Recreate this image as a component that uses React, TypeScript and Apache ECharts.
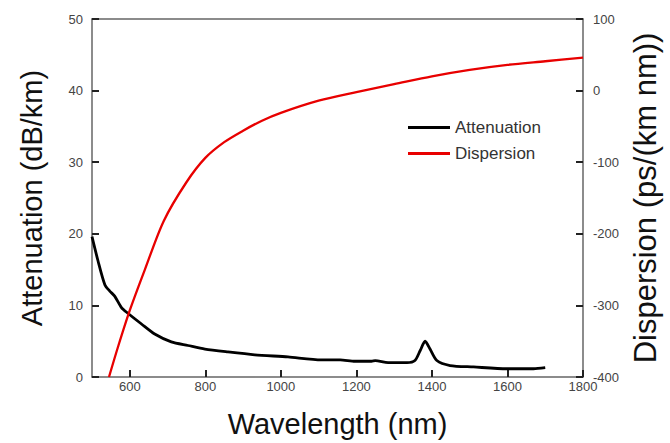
import React, { useEffect, useRef } from "react";
import * as echarts from "echarts";

const xTicks = [600, 800, 1000, 1200, 1400, 1600, 1800];

const attWavelength = [500, 516, 534, 547, 560, 578, 595, 631, 666, 710, 754, 799, 860, 931, 1019, 1107, 1157, 1196, 1240, 1250, 1284, 1334, 1355, 1369, 1382, 1395, 1413, 1448, 1510, 1598, 1669, 1700];
const attValues = [19.6, 16.2, 12.9, 12.0, 11.3, 9.7, 8.9, 7.4, 6.0, 4.9, 4.4, 3.9, 3.5, 3.1, 2.8, 2.4, 2.4, 2.2, 2.2, 2.3, 2.0, 2.0, 2.3, 3.7, 5.0, 3.9, 2.3, 1.6, 1.4, 1.15, 1.15, 1.3];

const dispWavelength = [545, 570, 600, 640, 690, 750, 800, 850, 900, 950, 1000, 1100, 1200, 1300, 1400, 1500, 1600, 1700, 1800];
const dispValues = [-400, -356, -307, -250, -182, -128, -94, -72, -56, -42, -31, -14, -2, 9, 20, 29, 36, 41, 46];

const FONT = "'Liberation Sans', Arial, sans-serif";

export default function App() {
  const ref = useRef<HTMLDivElement>(null);
  useEffect(() => {
    if (!ref.current) return;
    const chart = echarts.init(ref.current, null, { renderer: "svg" });
    const attData = attWavelength.map((w, i) => [w, attValues[i]]);
    const dispData = dispWavelength.map((w, i) => [w, dispValues[i]]);
    const plain = (v: number) => String(v);
    const mkLine = () => ({ show: true, onZero: false, lineStyle: { color: "#666", width: 1.5 } });
    const mkTick = () => ({ show: true, inside: true, length: 7, lineStyle: { color: "#222", width: 2 } });
    chart.setOption({
      animation: false,
      grid: { left: 92, right: 87, top: 19, bottom: 63 },
      legend: {
        orient: "vertical",
        left: 408,
        top: 119,
        padding: 0,
        itemWidth: 42,
        itemHeight: 3,
        itemGap: 9,
        icon: "rect",
        textStyle: { fontSize: 17, color: "#333", fontFamily: FONT },
        data: ["Attenuation", "Dispersion"],
      },
      xAxis: [
        {
          type: "value",
          min: 500,
          max: 1800,
          position: "bottom",
          name: "Wavelength (nm)",
          nameLocation: "middle",
          nameGap: 32,
          nameTextStyle: { fontSize: 29, color: "#111", fontFamily: FONT },
          axisLine: mkLine(),
          axisTick: { ...mkTick(), customValues: xTicks },
          axisLabel: { customValues: xTicks, fontSize: 13, color: "#444", margin: 3, fontFamily: FONT, formatter: plain },
          splitLine: { show: false },
        },
        {
          type: "value",
          min: 500,
          max: 1800,
          position: "top",
          axisLine: mkLine(),
          axisTick: { show: false },
          axisLabel: { show: false },
          splitLine: { show: false },
        },
        {
          type: "value",
          min: 500,
          max: 1800,
          position: "bottom",
          axisLine: { show: false },
          axisTick: { show: true, inside: true, length: 7, customValues: xTicks, lineStyle: { color: "#222", width: 2 } },
          axisLabel: { show: false, customValues: xTicks },
          splitLine: { show: false },
        },
      ],
      yAxis: [
        {
          type: "value",
          min: 0,
          max: 50,
          interval: 10,
          position: "left",
          name: "Attenuation (dB/km)",
          nameLocation: "middle",
          nameRotate: 90,
          nameGap: 46,
          nameTextStyle: { fontSize: 29, color: "#111", fontFamily: FONT },
          axisLine: mkLine(),
          axisTick: mkTick(),
          axisLabel: { fontSize: 13, color: "#444", margin: 9, fontFamily: FONT, formatter: plain },
          splitLine: { show: false },
        },
        {
          type: "value",
          min: -400,
          max: 100,
          interval: 100,
          position: "right",
          name: "Dispersion (ps/(km nm))",
          nameLocation: "middle",
          nameRotate: 90,
          nameGap: 37,
          nameTextStyle: { fontSize: 31, color: "#111", fontFamily: FONT },
          axisLine: mkLine(),
          axisTick: mkTick(),
          axisLabel: { fontSize: 13, color: "#444", margin: 10, fontFamily: FONT, formatter: plain },
          splitLine: { show: false },
        },
        {
          type: "value",
          min: 0,
          max: 50,
          interval: 10,
          position: "left",
          axisLine: { show: false },
          axisTick: { show: true, inside: true, length: 7, lineStyle: { color: "#222", width: 2 } },
          axisLabel: { show: false },
          splitLine: { show: false },
        },
        {
          type: "value",
          min: -400,
          max: 100,
          interval: 100,
          position: "right",
          axisLine: { show: false },
          axisTick: { show: true, inside: true, length: 7, lineStyle: { color: "#222", width: 2 } },
          axisLabel: { show: false },
          splitLine: { show: false },
        },
      ],
      series: [
        {
          name: "Attenuation",
          type: "line",
          xAxisIndex: 0,
          yAxisIndex: 0,
          data: attData,
          showSymbol: false,
          symbol: "none",
          smooth: 0.25,
          color: "#000",
          lineStyle: { color: "#000", width: 2.8 },
        },
        {
          name: "Dispersion",
          type: "line",
          xAxisIndex: 0,
          yAxisIndex: 1,
          data: dispData,
          showSymbol: false,
          symbol: "none",
          smooth: 0.3,
          color: "#e80000",
          lineStyle: { color: "#e80000", width: 2.3 },
        },
      ],
    });
    return () => chart.dispose();
  }, []);
  return (
    <div
      ref={ref}
      style={{ position: "fixed", left: 0, top: 0, width: 670, height: 443, background: "#fff" }}
    />
  );
}
